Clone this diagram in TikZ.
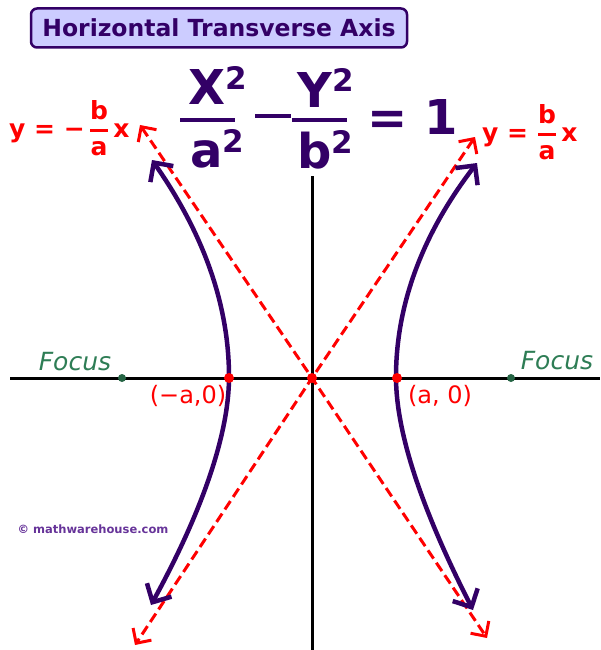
\documentclass[tikz,border=0pt]{standalone}
\usepackage{fontspec}
\setmainfont{DejaVu Sans}
\usepackage{xcolor}
\usetikzlibrary{arrows.meta}

\definecolor{hypurple}{HTML}{330066}
\definecolor{titlefill}{HTML}{CCCCFF}
\definecolor{focusgreen}{HTML}{2E7D55}
\definecolor{markgray}{HTML}{663399}

\newcommand{\sqtwo}{\raisebox{15pt}{\fontsize{31}{31}\selectfont 2}}
\newcommand{\slopefrac}{$\displaystyle{\hbox{b}\above 3pt\hbox{a}}$}

\begin{document}
\begin{tikzpicture}[x=1pt, y=-1pt,
    heading/.style={rectangle, rounded corners=6pt, draw=hypurple, line width=2.5pt, fill=titlefill, minimum width=376pt, minimum height=39pt, inner sep=0pt, text=hypurple, font=\fontsize{23.5}{23.5}\selectfont\bfseries},
    eqn/.style={inner sep=0pt, anchor=base, text=hypurple, font=\fontsize{48}{48}\selectfont\bfseries},
    fracbar/.style={hypurple, line width=3.5pt},
    axisline/.style={black, line width=3pt},
    branch/.style={hypurple, line width=4.5pt, {Straight Barb[length=14pt,width=28pt]}-{Straight Barb[length=14pt,width=28pt]}},
    asym/.style={red, line width=3pt, dash pattern=on 10pt off 5pt, {Straight Barb[length=11pt,width=22pt]}-{Straight Barb[length=11pt,width=22pt]}},
    slope/.style={inner sep=0pt, text=red, font=\fontsize{25}{25}\selectfont\bfseries},
    vertex/.style={inner sep=0pt, anchor=base, text=red, font=\fontsize{24}{24}\selectfont},
    focus/.style={inner sep=0pt, anchor=base, text=focusgreen, font=\fontsize{25}{25}\selectfont\itshape},
    reddot/.style={circle, fill=red, inner sep=0pt, minimum size=10pt},
    greendot/.style={circle, fill=focusgreen!80!black, inner sep=0pt, minimum size=8pt},
    watermark/.style={inner sep=0pt, anchor=base, text=markgray, font=\fontsize{11.5}{11.5}\selectfont\bfseries}
]
\useasboundingbox (0,0) rectangle (601,650);

\node[heading] (title) at (219,28) {Horizontal Transverse Axis};

\node[eqn] (xsq) at (218,105) {X\sqtwo};
\node[eqn] (asq) at (217,167) {a\sqtwo};
\node[eqn] (ysq) at (326,107) {Y\sqtwo};
\node[eqn] (bsq) at (325,168) {b\sqtwo};
\node[eqn] (one) at (413,135) {= 1};
\draw[fracbar] (180,120) -- (235,120);
\draw[fracbar] (255,116) -- (291,116);
\draw[fracbar] (292,120) -- (347,120);

\coordinate (origin) at (312,378);
\coordinate (tl) at (140,125);
\coordinate (br) at (487,638);
\coordinate (tr) at (475,137);
\coordinate (bl) at (135,645);

\draw[axisline] (10,378) -- (600,378);
\draw[axisline] (312,176) -- (312,650);

\draw[asym] (tl) -- (origin) -- (br);
\draw[asym] (tr) -- (origin) -- (bl);

\draw[branch] (477,163) .. controls (423,233) and (396,304) .. (396,377) .. controls (396,433) and (422,510) .. (473,610);
\draw[branch] (152,160) .. controls (203,233) and (229,304) .. (229,377) .. controls (229,433) and (203,510) .. (151,605);

\node[slope, anchor=base west] (negslope) at (9,137) {y = −\,\slopefrac\,x};
\node[slope, anchor=base west] (posslope) at (482,141) {y = \slopefrac\,x};

\node[reddot] (leftv) at (229,378) {};
\node[reddot] (center) at (origin) {};
\node[reddot] (rightv) at (397,378) {};
\node[greendot] (leftf) at (122,378) {};
\node[greendot] (rightf) at (511,378) {};

\node[vertex] (leftlbl) at (188,403) {(−a,0)};
\node[vertex] (rightlbl) at (440,403) {(a, 0)};
\node[focus] (leftfocus) at (75,370) {Focus};
\node[focus] (rightfocus) at (557,369) {Focus};

\node[watermark] (site) at (93,533) {© mathwarehouse.com};
\end{tikzpicture}
\end{document}
